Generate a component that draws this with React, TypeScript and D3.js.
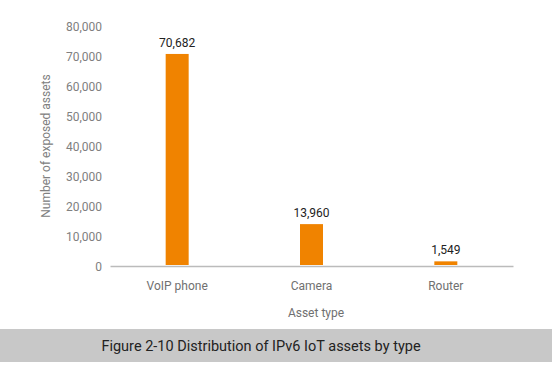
import React, { useRef, useEffect } from 'react';
import * as d3 from 'd3';

const categories = ['VoIP phone', 'Camera', 'Router'];
const values = [70682, 13960, 1549];
const yTicks = [0, 10000, 20000, 30000, 40000, 50000, 60000, 70000, 80000];

export default function App() {
  const svgRef = useRef<SVGSVGElement>(null);

  useEffect(() => {
    const w = 552;
    const h = 374;
    const svg = d3.select(svgRef.current);
    svg.selectAll('*').remove();

    svg.append('rect').attr('width', w).attr('height', h).attr('fill', '#fff');

    const xScale = d3.scaleBand().domain(categories).range([110, 513]).padding(0);
    const yScale = d3.scaleLinear().domain([0, 80000]).range([266, 26]);

    // y tick labels (no axis line)
    const yAxis = d3.axisLeft(yScale)
      .tickValues(yTicks)
      .tickSize(0)
      .tickPadding(0)
      .tickFormat(d3.format(','));
    const yg = svg.append('g').attr('transform', 'translate(102,1)').call(yAxis);
    yg.select('.domain').remove();
    yg.selectAll('text')
      .attr('fill', '#808080')
      .style('font-family', 'Roboto')
      .style('font-size', '12px');

    // x axis
    const xAxis = d3.axisBottom(xScale).tickSize(0).tickPadding(15);
    const xg = svg.append('g').attr('transform', 'translate(0,266)').call(xAxis);
    xg.select('.domain').attr('stroke', '#bbb').attr('stroke-width', 1.5);
    xg.selectAll('text')
      .attr('fill', '#707070')
      .style('font-family', 'Roboto')
      .style('font-size', '12px');

    const barW = 23;
    svg.selectAll('.bar')
      .data(values)
      .join('rect')
      .attr('class', 'bar')
      .attr('x', (d, i) => xScale(categories[i])! + xScale.bandwidth() / 2 - barW / 2)
      .attr('y', d => yScale(d))
      .attr('width', barW)
      .attr('height', d => 265 - yScale(d))
      .attr('fill', '#f08300');

    svg.selectAll('.val')
      .data(values)
      .join('text')
      .attr('class', 'val')
      .attr('x', (d, i) => xScale(categories[i])! + xScale.bandwidth() / 2)
      .attr('y', d => yScale(d) - 7)
      .attr('text-anchor', 'middle')
      .attr('fill', '#222')
      .style('font-family', 'Roboto')
      .style('font-size', '12px')
      .text(d => d3.format(',')(d));

    // axis titles
    svg.append('text')
      .attr('x', 316)
      .attr('y', 317)
      .attr('text-anchor', 'middle')
      .attr('fill', '#707070')
      .style('font-family', 'Roboto')
      .style('font-size', '12px')
      .text('Asset type');

    svg.append('text')
      .attr('transform', 'translate(50,146) rotate(-90)')
      .attr('text-anchor', 'middle')
      .attr('fill', '#808080')
      .style('font-family', 'Roboto')
      .style('font-size', '12px')
      .text('Number of exposed assets');

    // caption band
    svg.append('rect')
      .attr('x', 0)
      .attr('y', 329)
      .attr('width', w)
      .attr('height', 33)
      .attr('fill', '#c8c8c8');
    svg.append('text')
      .attr('x', 261)
      .attr('y', 350.5)
      .attr('text-anchor', 'middle')
      .attr('fill', '#222')
      .style('font-family', 'Roboto')
      .style('font-size', '14.5px')
      .text('Figure 2-10 Distribution of IPv6 IoT assets by type');
  }, []);

  return (
    <div>
      <svg ref={svgRef} width={552} height={374} style={{ position: 'absolute', left: 0, top: 0 }}></svg>
    </div>
  );
}
